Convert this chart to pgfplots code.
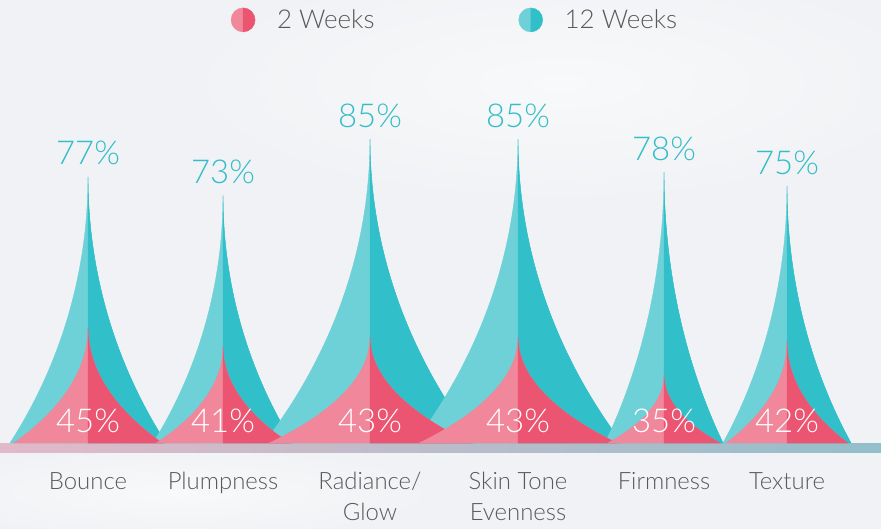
\documentclass[border=0pt]{standalone}
\usepackage{pgfplots}
\pgfplotsset{compat=1.18}
\usepackage{pgfplotstable}
\usepackage{fontspec}
\setmainfont{Lato}[UprightFont={* Light}]
\definecolor{tealL}{HTML}{6ED1D7}
\definecolor{tealD}{HTML}{31BFC9}
\definecolor{pinkL}{HTML}{F0879A}
\definecolor{pinkD}{HTML}{EB5571}
\definecolor{tealT}{HTML}{33BDC7}
\definecolor{txt}{HTML}{58595B}
\definecolor{bg}{HTML}{F0F2F5}
\definecolor{bgW}{HTML}{F8F9FA}
\definecolor{barL}{HTML}{E2B9C9}
\definecolor{barR}{HTML}{93BFCA}

\pgfplotstableread{
x   w    two twelve
88  78   45  77
223 70   41  73
370 106  43  85
518 104  43  85
664 59   35  78
787 64   42  75
}\datatable

\pgfdeclareplotmark{void}{}
\newcommand\ybase{20.6}
\newcommand\yu{4.72}
% #1 half width (bp), #2 value, #3 light colour, #4 dark colour
\newcommand\spike[4]{%
  \pgfmathsetmacro\spH{(#2-\ybase)*\yu*1.00375}%
  \pgfmathsetmacro\spW{#1*1.00375}%
  \fill[#3] (0pt,0pt) .. controls (0pt,{-0.5*\spH*1pt}) and ({-0.67*\spW*1pt},{-0.85*\spH*1pt}) .. ({-\spW*1pt},{-\spH*1pt})
     -- ({\spW*1pt},{-\spH*1pt}) .. controls ({0.67*\spW*1pt},{-0.85*\spH*1pt}) and (0pt,{-0.5*\spH*1pt}) .. (0pt,0pt) -- cycle;
  \fill[#4] (0pt,0pt) -- (0pt,{-\spH*1pt}) -- ({\spW*1pt},{-\spH*1pt}) .. controls ({0.67*\spW*1pt},{-0.85*\spH*1pt}) and (0pt,{-0.5*\spH*1pt}) .. (0pt,0pt) -- cycle;
}

\begin{document}
\begin{tikzpicture}
\fill[bg] (0,-86bp) rectangle (881bp,443bp);
\useasboundingbox (0,-86bp) rectangle (881bp,443bp);
\shade[inner color=bgW, outer color=bg] (560bp,360bp) ellipse (380bp and 120bp);
\shade[inner color=bgW, outer color=bg] (180bp,-50bp) ellipse (260bp and 45bp);
\shade[left color=barL, right color=barR] (0,-9bp) rectangle (881bp,0);
\begin{axis}[
  at={(0,0)}, anchor=south west,
  x=1bp, y=4.72bp,
  xmin=0, xmax=881, ymin=20.6, ymax=114.46,
  clip=false,
  axis line style={draw=none},
  ytick=\empty,
  xtick={88,223,370,518,664,787},
  xticklabels={Bounce,Plumpness,{Radiance/\\Glow},{Skin Tone\\Evenness},Firmness,Texture},
  major tick length=0pt,
  xticklabel style={font=\fontsize{24}{31}\selectfont, text=txt, align=center, anchor=north, inner sep=0pt, yshift=-29bp},
  /pgf/number format/assume math mode=true,
  reverse legend,
  legend cell align=left,
  legend style={font=\fontsize{26}{26}\selectfont, text=txt, draw=none, fill=none,
    legend columns=2, at={(0.5165,0.955)}, anchor=center,
    /tikz/every even column/.append style={column sep=142bp}},
]
% 12 Weeks spikes
\addplot[scatter, only marks, mark=void,
  point meta=explicit,
  visualization depends on={\thisrow{w} \as \wv},
  visualization depends on={\thisrow{twelve} \as \val},
  scatter/@pre marker code/.code={\spike{\wv}{\val}{tealL}{tealD}},
  scatter/@post marker code/.code={},
  legend image code/.code={
    \path[draw=none, fill=none] (0,0) rectangle (44bp,0);
    \fill[tealL] (12bp,12bp) arc[start angle=90, end angle=270, radius=12bp] -- cycle;
    \fill[tealD] (12bp,-12bp) arc[start angle=-90, end angle=90, radius=12bp] -- cycle;
  },
] table[x=x, y=twelve, meta=twelve] {\datatable};
\addlegendentry{12 Weeks}
% 2 Weeks spikes
\addplot[scatter, only marks, mark=void,
  point meta=explicit,
  visualization depends on={0.95*\thisrow{w} \as \wv},
  visualization depends on={\thisrow{two} \as \val},
  scatter/@pre marker code/.code={\spike{\wv}{\val}{pinkL}{pinkD}},
  scatter/@post marker code/.code={},
  legend image code/.code={
    \path[draw=none, fill=none] (0,0) rectangle (44bp,0);
    \fill[pinkL] (12bp,12bp) arc[start angle=90, end angle=270, radius=12bp] -- cycle;
    \fill[pinkD] (12bp,-12bp) arc[start angle=-90, end angle=90, radius=12bp] -- cycle;
  },
] table[x=x, y=two, meta=two] {\datatable};
\addlegendentry{2 Weeks}
% value labels
\addplot[forget plot, draw=none, mark=none,
  point meta=explicit,
  nodes near coords={\pgfmathprintnumber{\pgfplotspointmeta}\%},
  every node near coord/.append style={font=\fontsize{33}{33}\selectfont, text=tealT, anchor=base, inner sep=0pt, yshift=12bp},
] table[x=x, y=twelve, meta=twelve] {\datatable};
\addplot[forget plot, draw=none, mark=none,
  point meta=explicit,
  visualization depends on={\thisrow{two} \as \val},
  nodes near coords={\pgfmathprintnumber{\pgfplotspointmeta}\%},
  every node near coord/.append style={font=\fontsize{33}{33}\selectfont, text=white, anchor=base, inner sep=0pt, yshift={-(\val-20.6)*4.72bp+11bp}},
] table[x=x, y=two, meta=two] {\datatable};
\end{axis}
\end{tikzpicture}
\end{document}
